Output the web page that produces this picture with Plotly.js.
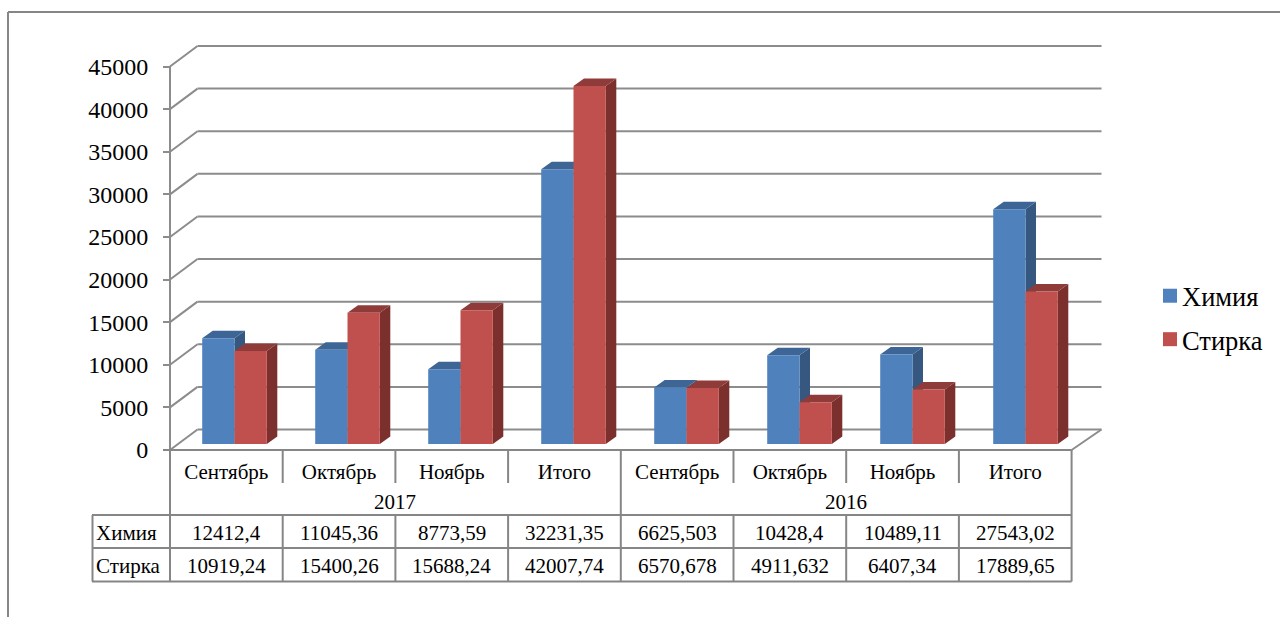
<!DOCTYPE html>
<html>
<head>
<meta charset="utf-8">
<script src="https://cdn.plot.ly/plotly-3.0.1.min.js"></script>
<style>html,body{margin:0;padding:0;background:#fff;overflow:hidden}#chart{width:1280px;height:617px}</style>
</head>
<body>
<div id="chart"></div>
<script>
const categories = ['Сентябрь','Октябрь','Ноябрь','Итого','Сентябрь','Октябрь','Ноябрь','Итого'];
const years = ['2017','2016'];
const himiya = [12412.4,11045.36,8773.59,32231.35,6625.503,10428.4,10489.11,27543.02];
const stirka = [10919.24,15400.26,15688.24,42007.74,6570.678,4911.632,6407.34,17889.65];
const seriesNames = ['Химия','Стирка'];
const yTicks = [0,5000,10000,15000,20000,25000,30000,35000,40000,45000];

const W=1280,H=617;
const L=150,R=1110,T=36,B=460;           // plot area in pixels
const X0=170,UX=112.7,Y0=450,KY=383.5/45000;
const BACK=113/UX;                       // category spacing on the bar and wall planes
const FONT='"Liberation Serif", "Times New Roman", serif';
const GRID='#8c8c8c', TBL='#868686';
const px=p=>(p-L)/(R-L), py=p=>(B-p)/(B-T);
const dxWall=27.5/UX, dyWall=20.5/KY, dxBar=10.5/UX, dyBar=7.5/KY;
const barW=32.3/UX, barShift=0.5723, barBase=6/KY;
const fmt=v=>String(v).replace('.',',');

const shapes=[];
const line=(x0,y0,x1,y1,color,width,xref,yref,layer)=>shapes.push({type:'line',x0,y0,x1,y1,xref,yref,layer,line:{color,width}});
const n=categories.length;
// walls
yTicks.forEach(v=>{
  line(0,v,dxWall,v+dyWall,GRID,2,'x','y','between');
  line(dxWall,v+dyWall,n*BACK+dxWall,v+dyWall,GRID,2,'x','y','between');
});
line(n,0,n*BACK+dxWall,dyWall,GRID,2,'x','y','between');
line(0,0,0,45000,GRID,2,'x','y','between');
// 3D faces of the bars
const poly=(pts,fill)=>shapes.push({type:'path',xref:'x',yref:'y',layer:'between',line:{width:0},fillcolor:fill,
  path:'M'+pts.map(p=>p[0]+','+p[1]).join('L')+'Z'});
const faces=(vals,off,top,side)=>vals.forEach((v,i)=>{
  const a=i*BACK+barShift+off, b=a+barW, y=v+barBase, y0=barBase;
  poly([[b,y0],[b+dxBar,y0+dyBar],[b+dxBar,y+dyBar],[b,y]],side);
  poly([[a,y],[a+dxBar,y+dyBar],[b+dxBar,y+dyBar],[b,y]],top);
});
faces(himiya,-barW,'#3d6696','#355780');
faces(stirka,0,'#8f3b39','#7c302e');
// data table grid
const tl=(x0,y0,x1,y1)=>line(px(x0),py(y0),px(x1),py(y1),TBL,2,'paper','paper','above');
tl(163,Y0,X0+n*UX,Y0);
tl(92,515,X0+n*UX,515); tl(92,548,X0+n*UX,548); tl(92,581.5,X0+n*UX,581.5);
tl(92.5,515,92.5,581.5);
tl(X0,Y0,X0,581.5);
tl(X0+n*UX,Y0,X0+n*UX,581.5);
tl(X0+4*UX,Y0,X0+4*UX,581.5);
for(let i=1;i<n;i++){ if(i!==4){ tl(X0+i*UX,Y0,X0+i*UX,483); tl(X0+i*UX,515,X0+i*UX,581.5);} }
// chart frame
line(px(8),py(12),px(1280),py(12),TBL,2,'paper','paper','above');
line(px(8),py(12),px(8),py(617),TBL,2,'paper','paper','above');

const annotations=[];
const note=(text,x,xref,xanchor,yp)=>annotations.push({text,x,xref,xanchor,y:py(yp),yref:'paper',yanchor:'middle',showarrow:false,
  font:{family:FONT,size:21,color:'#000'},borderpad:0});
years.forEach((t,k)=>note(t,2+4*k,'x','center',502));
note(seriesNames[0],px(95),'paper','left',533);
note(seriesNames[1],px(95),'paper','left',565.5);
himiya.forEach((v,i)=>note(fmt(v),i+0.5,'x','center',533));
stirka.forEach((v,i)=>note(fmt(v),i+0.5,'x','center',565.5));

const cats=categories.map((_,i)=>i);
const bar=(name,vals,color,off)=>({type:'bar',name,x:cats.map(i=>i*BACK+barShift),y:vals,base:cats.map(()=>barBase),
  width:cats.map(()=>barW),offset:cats.map(()=>off),marker:{color,line:{width:0}},legendgroup:name,hoverinfo:'y+name'});
const data=[bar(seriesNames[0],himiya,'#4f81bd',-barW),bar(seriesNames[1],stirka,'#c0504d',0)];

const layout={
  width:W,height:H,margin:{l:L,r:W-R,t:T,b:H-B,pad:0},paper_bgcolor:'#fff',plot_bgcolor:'rgba(0,0,0,0)',
  barmode:'overlay',showlegend:true,
  font:{family:FONT,color:'#000'},
  legend:{x:px(1142),y:py(272),xanchor:'left',yanchor:'top',font:{family:FONT,size:26.5,color:'#000'},
    traceorder:'grouped',tracegroupgap:6,bgcolor:'rgba(0,0,0,0)',borderwidth:0},
  xaxis:{range:[(L-X0)/UX,(R-X0)/UX],anchor:'free',position:py(Y0),showgrid:false,zeroline:false,showline:false,
    tickmode:'array',tickvals:cats.map(i=>i+0.5),ticktext:categories,ticks:'',ticklabelstandoff:7,
    tickfont:{family:FONT,size:21,color:'#000'},tickangle:0},
  yaxis:{range:[(Y0-B)/KY,(Y0-T)/KY],anchor:'free',position:px(X0),showgrid:false,zeroline:false,showline:false,
    tickmode:'array',tickvals:yTicks,ticktext:yTicks.map(String),ticks:'outside',ticklen:7,tickwidth:2,tickcolor:GRID,
    ticklabelstandoff:10,tickfont:{family:FONT,size:24,color:'#000'}},
  shapes,annotations
};
Plotly.newPlot('chart',data,layout,{displayModeBar:false,responsive:false}).then(()=>{
  // legend swatches sit closer to their labels and are slightly larger in the reference
  document.querySelectorAll('.legend .legendpoints path').forEach(p=>{
    const t=p.getAttribute('transform')||'';
    p.setAttribute('transform',t+' translate(8,0) scale(1.167)');
  });
});
</script>
</body>
</html>
